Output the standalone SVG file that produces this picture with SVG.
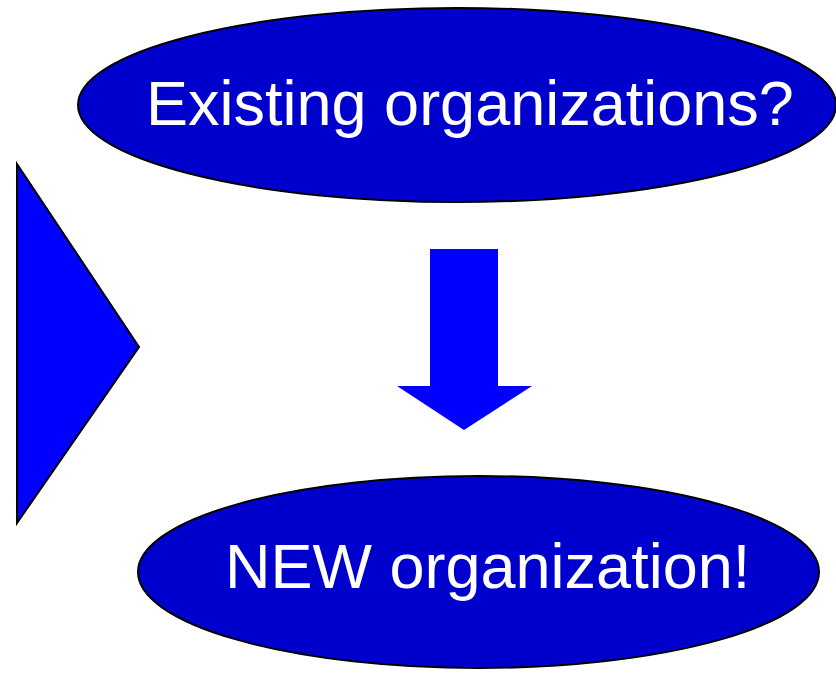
<svg xmlns="http://www.w3.org/2000/svg" width="836" height="673" viewBox="0 0 836 673">
<style>
.oval{fill:#0000CC;stroke:#000;stroke-width:2}
.lbl{font-family:"Liberation Sans",Arial,sans-serif;font-size:63px;fill:#fff}
</style>
<rect width="836" height="673" fill="#fff"/>
<g id="existing">
<ellipse class="oval" cx="457" cy="105" rx="379" ry="97"/>
<text class="lbl" x="146" y="125">Existing organizations?</text>
</g>
<g id="triangle">
<polygon points="17,164 139,347 17,523" fill="#0000FF" stroke="#000" stroke-width="2"/>
</g>
<g id="connectors">
<polygon points="430,249 498,249 498,386 532,386 464,430 397,386 430,386" fill="#0000FF"/>
</g>
<g id="new">
<ellipse class="oval" cx="478.5" cy="572" rx="340.5" ry="96"/>
<text class="lbl" x="225" y="588">NEW organization!</text>
</g>
</svg>
